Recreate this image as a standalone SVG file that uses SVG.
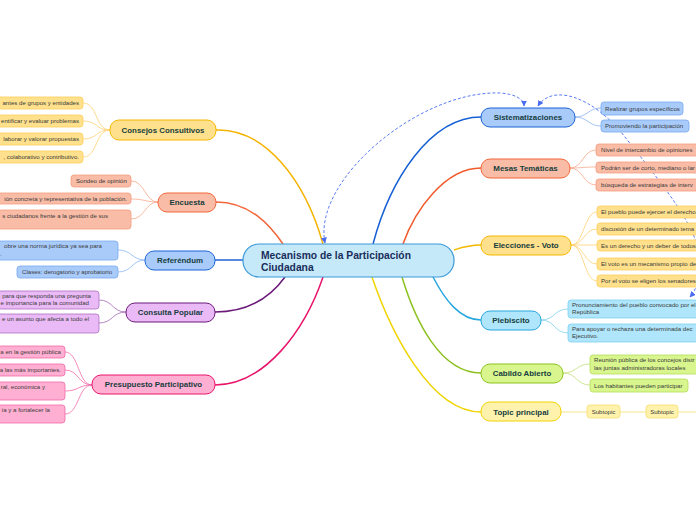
<svg xmlns="http://www.w3.org/2000/svg" width="696" height="520" viewBox="0 0 696 520">
<defs>
<marker id="ah" viewBox="0 0 10 10" refX="9" refY="5" markerWidth="6" markerHeight="6" orient="auto-start-reverse" markerUnits="userSpaceOnUse">
<path d="M0,0 L10,5 L0,10 z" fill="#4a6cf0"/>
</marker>
<style>
.main{font-family:"Liberation Sans",Arial,sans-serif;font-weight:bold;font-size:7.9px;fill:#163d3d;text-anchor:middle}
.sub{font-family:"Liberation Sans",Arial,sans-serif;font-size:6.1px;fill:#3a3a3a}
.e{text-anchor:end}
.m{text-anchor:middle}
.lk{fill:none;stroke-width:1.5}
.sl{fill:none;stroke-width:0.8}
.dash{fill:none;stroke:#5b7cf5;stroke-width:1;stroke-dasharray:3,2}
.yel{fill:#ffe08c;stroke:#f5b800}
.ysub{fill:#ffe08c;stroke:#ffcf5a;stroke-width:0.8}
.ora{fill:#f9bca6;stroke:#f2673a}
.osub{fill:#f9bca6;stroke:#f59c80;stroke-width:0.8}
.blu{fill:#a8cbfa;stroke:#1f63d6}
.bsub{fill:#a8cbfa;stroke:#7aa9f0;stroke-width:0.8}
.pur{fill:#eabaf6;stroke:#6b1a7a}
.psub{fill:#eabaf6;stroke:#b070c0;stroke-width:0.8}
.pnk{fill:#ffafd2;stroke:#e8146a}
.ksub{fill:#ffafd2;stroke:#f26aa8;stroke-width:0.8}
.cya{fill:#b0e6fb;stroke:#27a6e0}
.csub{fill:#b0e6fb;stroke:#7fcfef;stroke-width:0.8}
.grn{fill:#d8f58e;stroke:#8cc11f}
.gsub{fill:#d8f58e;stroke:#b5dd5a;stroke-width:0.8}
.lyl{fill:#fff2ac;stroke:#f0d400}
.lsub{fill:#fff2ac;stroke:#f5e070;stroke-width:0.8}
</style>
</defs>
<rect width="696" height="520" fill="#ffffff"/>

<g id="connectors">
<path class="lk" stroke="#f5b400" d="M216,130 C265,128 305,180 323,244"/>
<path class="lk" stroke="#f2673a" d="M216,202 C250,202 270,225 283,244"/>
<path class="lk" stroke="#1f63d6" d="M215,260 C228,260 235,260 243,260"/>
<path class="lk" stroke="#6b1a7a" d="M215,312 C250,312 272,295 285,277"/>
<path class="lk" stroke="#e8146a" d="M215,385 C265,385 305,330 323,277"/>
<path class="lk" stroke="#1560d4" d="M481,117 C430,117 390,180 373,244"/>
<path class="lk" stroke="#f25a2a" d="M481,168 C445,168 415,210 403,244"/>
<path class="lk" stroke="#f5b800" d="M481,245 C468,245 460,248 454,250"/>
<path class="lk" stroke="#27a6e0" d="M481,320 C460,320 445,300 433,277"/>
<path class="lk" stroke="#8cc11f" d="M481,373 C440,373 415,320 402,277"/>
<path class="lk" stroke="#f0d400" d="M481,412 C430,412 390,330 372,277"/>

<g stroke="#ffd070">
<path class="sl" d="M110,130 C95,130 98,103 83,103"/>
<path class="sl" d="M110,130 C95,130 98,121 83,121"/>
<path class="sl" d="M110,130 C95,130 98,139 83,139"/>
<path class="sl" d="M110,130 C95,130 98,157 83,157"/>
</g>
<g stroke="#f9a88a">
<path class="sl" d="M158,202 C145,202 145,181 131,181"/>
<path class="sl" d="M158,202 C145,202 145,199 131,199"/>
<path class="sl" d="M158,202 C145,202 145,219 131,219"/>
</g>
<g stroke="#8ab8f5">
<path class="sl" d="M145,260 C132,260 132,250 118,250"/>
<path class="sl" d="M145,260 C132,260 132,272 118,272"/>
</g>
<g stroke="#a468b4">
<path class="sl" d="M126,312 C112,312 113,300 99,300"/>
<path class="sl" d="M126,312 C112,312 113,323 99,323"/>
</g>
<g stroke="#f56aa8">
<path class="sl" d="M92,385 C78,385 79,352 65,352"/>
<path class="sl" d="M92,385 C78,385 79,370 65,370"/>
<path class="sl" d="M92,385 C78,385 79,391 65,391"/>
<path class="sl" d="M92,385 C78,385 79,414 65,414"/>
</g>
<g stroke="#8ab4f0">
<path class="sl" d="M575,117 C588,117 588,108 601,108"/>
<path class="sl" d="M575,117 C588,117 588,126 601,126"/>
</g>
<g stroke="#f9a88a">
<path class="sl" d="M570,168 C583,168 583,150 596,150"/>
<path class="sl" d="M570,168 C583,168 583,167 596,167"/>
<path class="sl" d="M570,168 C583,168 583,185 596,185"/>
</g>
<g stroke="#ffd070">
<path class="sl" d="M571,245 C584,245 584,212 597,212"/>
<path class="sl" d="M571,245 C584,245 584,229 597,229"/>
<path class="sl" d="M571,245 C584,245 584,245 597,245"/>
<path class="sl" d="M571,245 C584,245 584,264 597,264"/>
<path class="sl" d="M571,245 C584,245 584,281 597,281"/>
</g>
<g stroke="#7fd0f0">
<path class="sl" d="M541,320 C555,320 554,309 568,309"/>
<path class="sl" d="M541,320 C555,320 554,333 568,333"/>
</g>
<g stroke="#c2e07a">
<path class="sl" d="M563,373 C577,373 576,364 590,364"/>
<path class="sl" d="M563,373 C577,373 576,385 590,385"/>
</g>
<g stroke="#f5e070">
<path class="sl" d="M561,412 L587,412"/>
<path class="sl" d="M620,412 L646,412"/>
<path class="sl" d="M678,412 L696,412"/>
</g>

<path class="dash" marker-start="url(#ah)" marker-end="url(#ah)" d="M325,243 C312,180 420,90 500,93 C515,94 524,99 524,106"/>
<path class="dash" marker-start="url(#ah)" marker-end="url(#ah)" d="M538,106 C552,84 592,95 625,137 C660,182 700,228 700,262 C700,280 696,290 690,297"/>
</g>

<g id="center">
<rect x="243" y="244" width="211" height="33" rx="16" fill="#c6e9fa" stroke="#3a9ad9" stroke-width="1.2"/>
<text x="261" y="258.5" font-family="Liberation Sans, Arial, sans-serif" font-weight="bold" font-size="10.3" fill="#1a2e5a">Mecanismo de la Participación</text>
<text x="261" y="270.5" font-family="Liberation Sans, Arial, sans-serif" font-weight="bold" font-size="10.3" fill="#1a2e5a">Ciudadana</text>
</g>

<g id="consejos">
<rect class="yel" x="110" y="120" width="106" height="20" rx="9"/>
<text class="main" x="163" y="132.8">Consejos Consultivos</text>
<rect class="ysub" x="-10" y="97" width="93" height="12" rx="3"/>
<text class="sub e" x="79" y="105.2">antes de grupos y entidades</text>
<rect class="ysub" x="-10" y="115" width="93" height="12" rx="3"/>
<text class="sub e" x="79" y="123.2">entificar y evaluar problemas</text>
<rect class="ysub" x="-10" y="133" width="93" height="12" rx="3"/>
<text class="sub e" x="79" y="141.2">laborar y valorar propuestas</text>
<rect class="ysub" x="-10" y="151" width="93" height="12" rx="3"/>
<text class="sub e" x="79" y="159.2">, colaborativo y contributivo.</text>
</g>

<g id="encuesta">
<rect class="ora" x="158" y="193" width="58" height="19" rx="9"/>
<text class="main" x="187" y="205.3">Encuesta</text>
<rect class="osub" x="71" y="175" width="60" height="12" rx="3"/>
<text class="sub" x="76" y="183.2">Sondeo de opinión</text>
<rect class="osub" x="-10" y="193" width="141" height="11" rx="3"/>
<text class="sub e" x="127" y="200.8">ión concreta y representativa de la población.</text>
<rect class="osub" x="-10" y="210" width="141" height="19" rx="3"/>
<text class="sub e" x="108" y="217.5">s ciudadanos frente a la gestión de sus</text>
</g>

<g id="referendum">
<rect class="blu" x="145" y="251" width="70" height="19" rx="9"/>
<text class="main" x="180" y="263.3">Referéndum</text>
<rect class="bsub" x="-10" y="241" width="128" height="19" rx="3"/>
<text class="sub e" x="102" y="248">obre una norma jurídica ya sea para</text>
<text class="sub" x="0" y="255.5">.</text>
<rect class="bsub" x="17" y="266" width="101" height="12" rx="3"/>
<text class="sub" x="22" y="274.2">Clases: derogatorio y aprobatorio</text>
</g>

<g id="consulta">
<rect class="pur" x="126" y="303" width="89" height="19" rx="9"/>
<text class="main" x="170.5" y="315.3">Consulta Popular</text>
<rect class="psub" x="-10" y="291" width="109" height="18" rx="3"/>
<text class="sub e" x="91" y="298">para que responda una pregunta</text>
<text class="sub e" x="89" y="305.3">e importancia para la comunidad</text>
<rect class="psub" x="-10" y="314" width="109" height="19" rx="3"/>
<text class="sub e" x="89" y="321">e un asunto que afecta a todo el</text>
</g>

<g id="presupuesto">
<rect class="pnk" x="92" y="375" width="123" height="19" rx="9"/>
<text class="main" x="153.5" y="387.3">Presupuesto Participativo</text>
<rect class="ksub" x="-10" y="346" width="75" height="12" rx="3"/>
<text class="sub e" x="61" y="354.2">a en la gestión pública</text>
<rect class="ksub" x="-10" y="364" width="75" height="12" rx="3"/>
<text class="sub e" x="61" y="372.2">a las más importantes.</text>
<rect class="ksub" x="-10" y="382" width="75" height="18" rx="3"/>
<text class="sub e" x="45" y="389">ral, económica y</text>
<rect class="ksub" x="-10" y="405" width="75" height="18" rx="3"/>
<text class="sub e" x="50" y="412">ía y a fortalecer la</text>
</g>

<g id="sistematizaciones">
<rect class="blu" x="481" y="108" width="94" height="19" rx="9" stroke="#1560d4"/>
<text class="main" x="528" y="120.3">Sistematizaciones</text>
<rect class="bsub" x="601" y="102" width="82" height="13" rx="3"/>
<text class="sub" x="605" y="110.7">Realizar grupos específicos</text>
<rect class="bsub" x="601" y="120" width="88" height="12" rx="3"/>
<text class="sub" x="605" y="128.2">Promoviendo la participación</text>
</g>

<g id="mesas">
<rect class="ora" x="481" y="159" width="89" height="19" rx="9"/>
<text class="main" x="525.5" y="171.3">Mesas Temáticas</text>
<rect class="osub" x="596" y="144" width="110" height="12" rx="3"/>
<text class="sub" x="601" y="152.2">Nivel de intercambio de opiniones</text>
<rect class="osub" x="596" y="162" width="110" height="11" rx="3"/>
<text class="sub" x="601" y="169.7">Podrán ser de corto, mediano o lar</text>
<rect class="osub" x="596" y="179" width="110" height="12" rx="3"/>
<text class="sub" x="601" y="187.2">búsqueda de estrategias de interv</text>
</g>

<g id="elecciones">
<rect class="yel" x="481" y="236" width="90" height="19" rx="9"/>
<text class="main" x="526" y="248.3">Elecciones - Voto</text>
<rect class="ysub" x="597" y="206" width="110" height="12" rx="3"/>
<text class="sub" x="601" y="214.2">El pueblo puede ejercer el derecho</text>
<rect class="ysub" x="597" y="223" width="110" height="12" rx="3"/>
<text class="sub" x="601" y="231.2">discusión de un determinado tema</text>
<rect class="ysub" x="597" y="240" width="110" height="11" rx="3"/>
<text class="sub" x="601" y="247.8">Es un derecho y un deber de todos</text>
<rect class="ysub" x="597" y="258" width="110" height="12" rx="3"/>
<text class="sub" x="601" y="266.2">El voto es un mecanismo propio de</text>
<rect class="ysub" x="597" y="275" width="110" height="12" rx="3"/>
<text class="sub" x="601" y="283.2">Por el voto se eligen los senadores</text>
</g>

<g id="plebiscito">
<rect class="cya" x="481" y="311" width="60" height="19" rx="9"/>
<text class="main" x="511" y="323.3">Plebiscito</text>
<rect class="csub" x="568" y="300" width="140" height="18" rx="3"/>
<text class="sub" x="572" y="307">Pronunciamiento del pueblo convocado por el</text>
<text class="sub" x="572" y="314.3">República</text>
<rect class="csub" x="568" y="324" width="140" height="18" rx="3"/>
<text class="sub" x="572" y="331">Para apoyar  o rechaza una determinada dec</text>
<text class="sub" x="572" y="338.3">Ejecutivo.</text>
</g>

<g id="cabildo">
<rect class="grn" x="481" y="364" width="82" height="19" rx="9"/>
<text class="main" x="522" y="376.3">Cabildo Abierto</text>
<rect class="gsub" x="590" y="355" width="120" height="19" rx="3"/>
<text class="sub" x="594" y="362">Reunión pública de los concejos distr</text>
<text class="sub" x="594" y="369.5">las juntas administradoras locales</text>
<rect class="gsub" x="590" y="379" width="98" height="13" rx="3"/>
<text class="sub" x="594" y="387.7">Los habitantes pueden participar</text>
</g>

<g id="topic">
<rect class="lyl" x="481" y="402" width="80" height="19" rx="9"/>
<text class="main" x="521" y="414.8">Topic principal</text>
<rect class="lsub" x="587" y="405" width="33" height="13" rx="3"/>
<text class="sub m" x="603.5" y="413.7">Subtopic</text>
<rect class="lsub" x="646" y="405" width="32" height="13" rx="3"/>
<text class="sub m" x="662" y="413.7">Subtopic</text>
</g>
</svg>
